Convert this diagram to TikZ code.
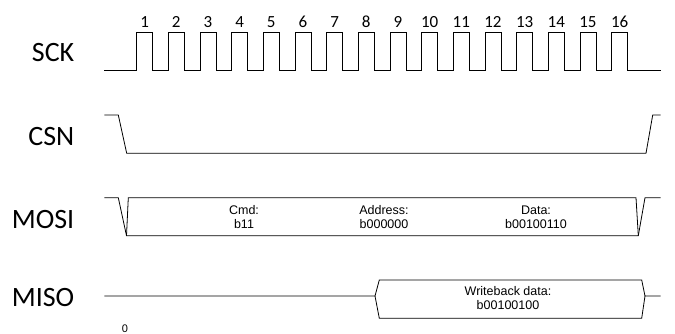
\documentclass[tikz,border=0pt]{standalone}
\usepackage{fontspec}
\setmainfont{Carlito}
\newfontfamily\arialfont{Liberation Sans}

\begin{document}
\begin{tikzpicture}[x=1pt,y=-1pt,line width=0.8pt,
    signame/.style={anchor=east,font=\fontsize{28}{28}\selectfont},
    busval/.style={align=center,font=\arialfont\fontsize{12.5}{14}\selectfont}]
        \useasboundingbox (0,0) rectangle (675,334);
        % signal names
        \node[signame] (sck) at (78,53) {SCK};
        \node[signame] (csn) at (78,137) {CSN};
        \node[signame] (mosi) at (78,220) {MOSI};
        \node[signame] (miso) at (78,298) {MISO};

        % clock
        \draw (104.3,70.7) \foreach \k in {0,...,15} { -- ({136.7+31.67*\k},70.7) -- ++(0,-38.2) -- ++(15.9,0) -- ++(0,38.2)} -- (660.7,70.7);
        \foreach \k in {1,...,16}
          \node[font=\fontsize{17}{17}\selectfont] (num\k) at ({144.6+31.67*(\k-1)},22) {\k};

        % chip select
        \draw (104.3,115) -- (118.3,115) -- (126.7,153.3) -- (646,153.3) -- (652.7,115) -- (660.7,115);

        % mosi
        \draw (104.3,197.7) -- (118.3,197.7) -- (126.5,235.7) -- (638.3,235.7) -- (645,197.7) -- (660.7,197.7);
        \draw (126.5,235.7) -- (128.3,197.7) -- (636,197.7) -- (638.3,235.7);
        \node[busval] (cmd) at (244,217) {Cmd:\\b11};
        \node[busval] (addr) at (384,217) {Address:\\b000000};
        \node[busval] (data) at (536,217) {Data:\\b00100110};

        % miso
        \draw (104.3,296) -- (375,296) -- (379.3,280) -- (641.7,280) -- (645,296) -- (660.7,296);
        \draw (375,296) -- (379.3,318.3) -- (641.7,318.3) -- (645,296);
        \node[busval] (wb) at (508,298.5) {Writeback data:\\b00100100};

        \node[inner sep=0pt,font=\arialfont\fontsize{11}{11}\selectfont] (zero) at (125,328.5) {0};
      \end{tikzpicture}
\end{document}
